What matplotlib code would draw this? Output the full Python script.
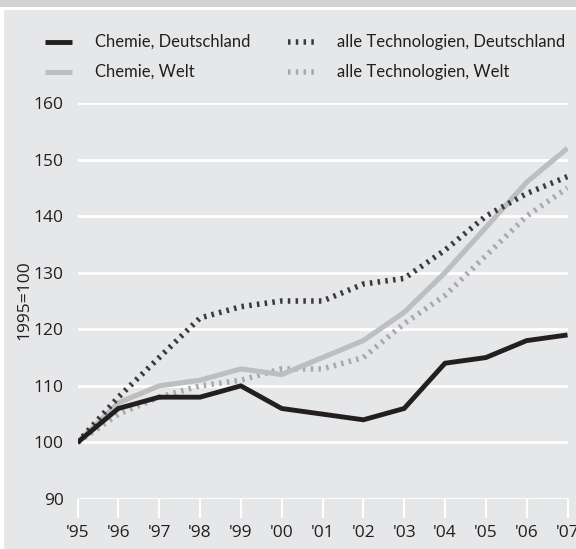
import matplotlib
matplotlib.use("Agg")
import matplotlib.pyplot as plt
from matplotlib.lines import Line2D
from matplotlib.patches import Rectangle

years = ["'95", "'96", "'97", "'98", "'99", "'00", "'01", "'02", "'03", "'04", "'05", "'06", "'07"]
chemie_de = [100, 106, 108, 108, 110, 106, 105, 104, 106, 114, 115, 118, 119]
chemie_welt = [100, 107, 110, 111, 113, 112, 115, 118, 123, 130, 138, 146, 152]
alle_de = [100, 108, 115, 122, 124, 125, 125, 128, 129, 134, 140, 144, 147]
alle_welt = [100, 105, 108, 110, 111, 113, 113, 115, 121, 126, 133, 140, 145]
labels = ["Chemie, Deutschland", "Chemie, Welt",
          "alle Technologien, Deutschland", "alle Technologien, Welt"]
yticks = [90, 100, 110, 120, 130, 140, 150, 160]

W, H = 576, 549
fig = plt.figure(figsize=(W / 100, H / 100), dpi=100)
fig.patch.set_facecolor("white")
PANEL = "#e6e7e8"
BAND = "#d1d3d4"

# background
fig.add_artist(Rectangle((0, 1 - 7 / H), 1, 7 / H, transform=fig.transFigure,
                         facecolor=BAND, edgecolor="none", zorder=-10))
fig.add_artist(Rectangle((4 / W, 0), 1 - 4 / W, 1 - 10 / H, transform=fig.transFigure,
                         facecolor=PANEL, edgecolor="none", zorder=-10))

left, right = 77.5 / W, 567.5 / W
bottom, top = 1 - 499 / H, 1 - 103 / H
ax = fig.add_axes([left, bottom, right - left, top - bottom])
ax.set_facecolor("none")

x = list(range(len(years)))
styles = [
    dict(color="#231f20", lw=3.5, ls="-", solid_capstyle="butt", solid_joinstyle="miter"),
    dict(color="#bcbec0", lw=3.7, ls="-", solid_capstyle="butt", solid_joinstyle="miter"),
    dict(color="#3a3a3c", lw=4.0, ls=(0, (0.45, 0.95)), dash_capstyle="butt"),
    dict(color="#a7a9ac", lw=4.0, ls=(0, (0.45, 0.95)), dash_capstyle="butt"),
]
series = [chemie_de, chemie_welt, alle_de, alle_welt]
zorders = [6, 4, 5, 3]
for i in range(4):
    ax.plot(x, series[i], zorder=zorders[i], **styles[i])

ax.set_xlim(0, len(years) - 1)
ax.set_ylim(90, 160)
ax.set_yticks(yticks)
ax.set_xticks(x)
ax.set_xticklabels(years)
for s in ax.spines.values():
    s.set_visible(False)
for yv in yticks:
    ax.axhline(yv, color="white", lw=2.0, zorder=1)
ax.tick_params(axis="y", length=0, pad=10, labelsize=12.5, labelcolor="#231f20")
ax.tick_params(axis="x", length=13.7, width=1.5, color="white", pad=5, labelsize=12.5,
               labelcolor="#231f20", direction="out")
for lab in ax.get_xticklabels() + ax.get_yticklabels():
    lab.set_family("Open Sans")
ax.set_ylabel("1995=100", fontsize=12.5, family="Open Sans", color="#231f20")
ax.yaxis.set_label_coords((32 - 77.5) / (567.5 - 77.5), (499 - 300) / (499 - 103))

# legend (manual)
rows = [42, 72]
cols = [(45, 72, 95), (288, 315, 337)]
for k in range(4):
    c = k // 2
    r = k % 2
    x0, x1, tx = cols[c]
    yy = 1 - rows[r] / H
    st = dict(styles[k])
    fig.add_artist(Line2D([x0 / W, x1 / W], [yy, yy], transform=fig.transFigure, **st))
    fig.text(tx / W, yy, labels[k], fontsize=12, family="Lato", color="#231f20",
             va="center", ha="left")

fig.savefig("out.png", dpi=100, facecolor=fig.get_facecolor())
